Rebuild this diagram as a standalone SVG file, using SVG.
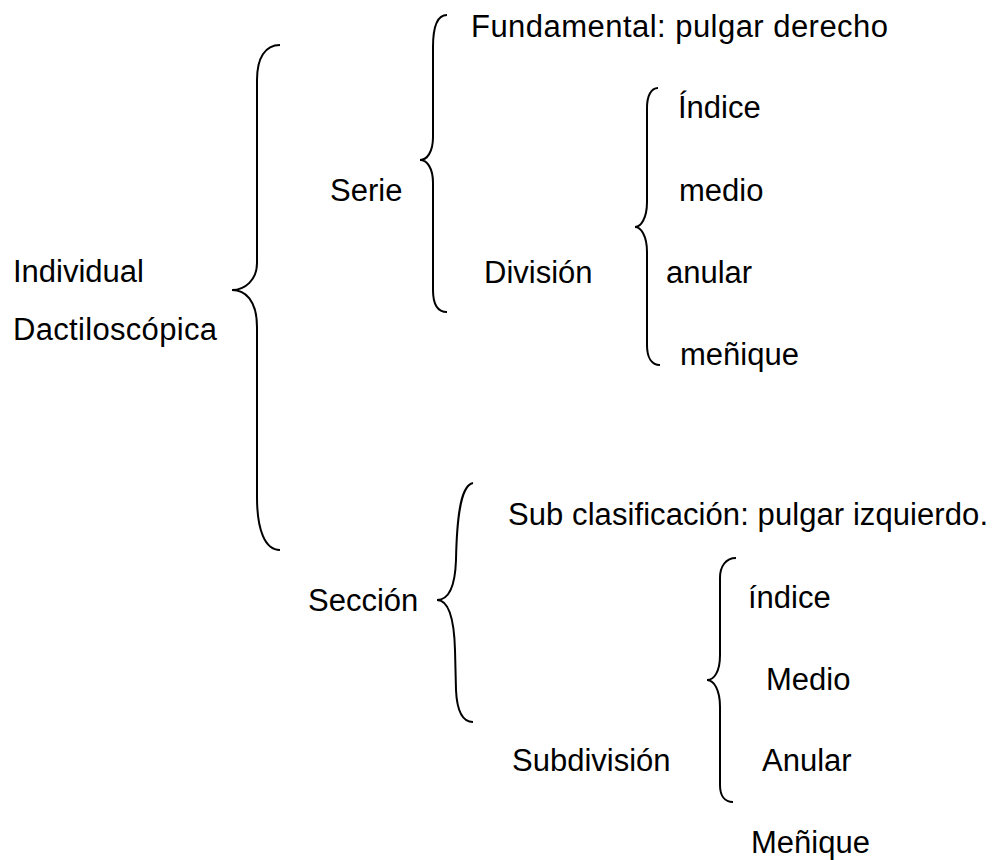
<svg xmlns="http://www.w3.org/2000/svg" width="1002" height="860" viewBox="0 0 1002 860">
<style>
text{font-family:"Liberation Sans",Arial,sans-serif;font-size:31px;fill:#000}
.br{fill:none;stroke:#000;stroke-width:2}
</style>
<rect width="1002" height="860" fill="#fff"/>
<g id="connectors">
<path class="br" d="M280,45 C265,45 257,58 257,80 L257,263 C257,280 245,290 232,290 C245,290 257,300 257,327 L257,497 C257,530 265,550 280,550"/>
<path class="br" d="M447,15 C438,15 433,25 433,47 L433,137 C433,152 427,160 420,160 C427,160 433,168 433,183 L433,290 C433,305 438,312 447,312"/>
<path class="br" d="M658,88 C651,88 647,96 647,108 L647,202 C647,218 641,227 635,227 C641,227 647,236 647,252 L647,345 C647,358 652,365 660,365"/>
<path class="br" d="M473,483 C462,485 457,510 456,560 C455,590 447,600 437,600 C448,600 454,615 455,650 L456,690 C457,712 463,722 473,722"/>
<path class="br" d="M736,558 C726,558 720,566 720,578 L720,655 C720,672 714,680 707,680 C714,680 720,690 720,707 L720,785 C720,796 725,802 733,802"/>
</g>
<g id="individual"><text x="13" y="282">Individual</text></g>
<g id="dactiloscopica"><text x="13" y="340" textLength="204" lengthAdjust="spacing">Dactiloscópica</text></g>
<g id="serie"><text x="330" y="201">Serie</text></g>
<g id="fundamental"><text x="471" y="37" textLength="417" lengthAdjust="spacing">Fundamental: pulgar derecho</text></g>
<g id="division"><text x="484" y="283">División</text></g>
<g id="indice1"><text x="678" y="118">Índice</text></g>
<g id="medio1"><text x="679" y="201">medio</text></g>
<g id="anular1"><text x="666" y="283">anular</text></g>
<g id="menique1"><text x="680" y="365">meñique</text></g>
<g id="seccion"><text x="308" y="611">Sección</text></g>
<g id="subclasificacion"><text x="508" y="525" textLength="480" lengthAdjust="spacing">Sub clasificación: pulgar izquierdo.</text></g>
<g id="subdivision"><text x="512" y="771">Subdivisión</text></g>
<g id="indice2"><text x="748" y="608">índice</text></g>
<g id="medio2"><text x="766" y="690">Medio</text></g>
<g id="anular2"><text x="762" y="771">Anular</text></g>
<g id="menique2"><text x="751" y="853">Meñique</text></g>
</svg>
